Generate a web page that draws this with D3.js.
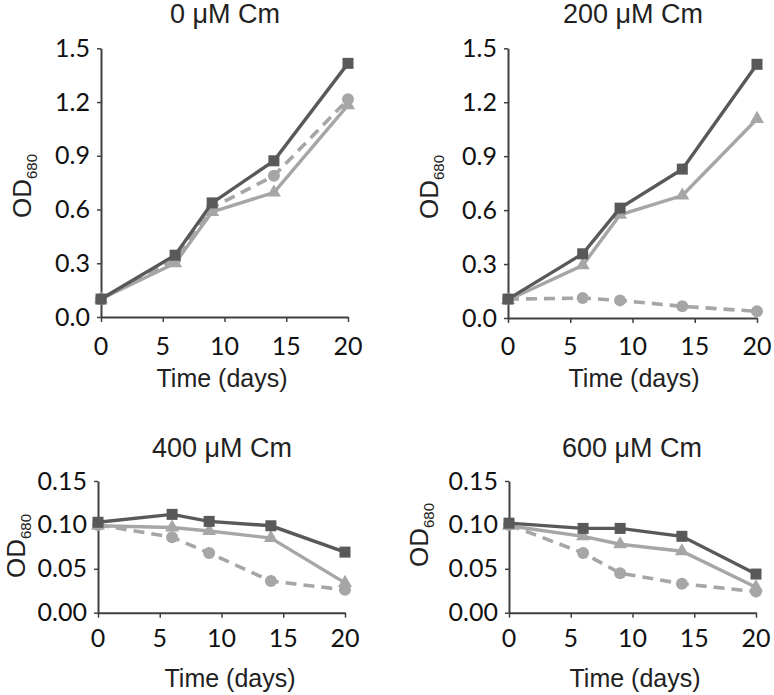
<!DOCTYPE html>
<html>
<head>
<meta charset="utf-8">
<script src="https://cdn.jsdelivr.net/npm/d3@7/dist/d3.min.js"></script>
<style>
  body { margin: 0; background: #fff; }
  svg { display: block; }
</style>
</head>
<body>
<svg id="chart" width="774" height="695"></svg>
<script>
// ---- data ----
const days = [0, 6, 9, 14, 20];
const titles = ["0 μM Cm", "200 μM Cm", "400 μM Cm", "600 μM Cm"];
const xTicks = [0, 5, 10, 15, 20];
const yTicksTop = [0, 0.3, 0.6, 0.9, 1.2, 1.5];
const yTicksBottom = [0, 0.05, 0.10, 0.15];
const yMaxTop = 1.5;
const yMaxBottom = 0.15;

// squares (dark solid)
const square0   = [0.100, 0.345, 0.637, 0.872, 1.416];
const square200 = [0.105, 0.357, 0.611, 0.828, 1.411];
const square400 = [0.103, 0.112, 0.104, 0.099, 0.069];
const square600 = [0.102, 0.096, 0.096, 0.087, 0.044];
// triangles (light solid)
const tri0   = [0.100, 0.300, 0.587, 0.695, 1.183];
const tri200 = [0.100, 0.293, 0.574, 0.681, 1.107];
const tri400 = [0.099, 0.097, 0.093, 0.085, 0.034];
const tri600 = [0.099, 0.087, 0.078, 0.070, 0.029];
// circles (light dashed)
const circ0   = [0.100, 0.320, 0.610, 0.788, 1.215];
const circ200 = [0.105, 0.111, 0.098, 0.065, 0.037];
const circ400 = [0.100, 0.086, 0.068, 0.036, 0.026];
const circ600 = [0.100, 0.068, 0.045, 0.033, 0.024];

const squares = [square0, square200, square400, square600];
const tris = [tri0, tri200, tri400, tri600];
const circs = [circ0, circ200, circ400, circ600];

// ---- layout ----
const panels = [
  { x0: 101, x1: 348, yTop: 48.3, yBot: 317, titleX: 225, titleY: 23, xlabX: 222, xlabY: 387, tickY: 355, odX: 31, odY: 186, top: true },
  { x0: 508, x1: 757, yTop: 48.3, yBot: 318, titleX: 633, titleY: 23, xlabX: 634, xlabY: 387, tickY: 355, odX: 438, odY: 187, top: true },
  { x0: 98,  x1: 345, yTop: 481, yBot: 612.7, titleX: 222, titleY: 457, xlabX: 230, xlabY: 687, tickY: 647, odX: 25, odY: 546, top: false },
  { x0: 509, x1: 756, yTop: 481, yBot: 612.7, titleX: 632, titleY: 457, xlabX: 635, xlabY: 687, tickY: 647, odX: 428, odY: 535, top: false }
];

const dark = "#595959";
const light = "#a6a6a6";
const axisColor = "#404040";
const tickFont = "Lato, 'Open Sans', sans-serif";
const labelFont = "'Liberation Sans', Arial, sans-serif";

const svg = d3.select("#chart");

panels.forEach((p, i) => {
  const g = svg.append("g");
  const x = d3.scaleLinear().domain([0, 20]).range([p.x0, p.x1]);
  const y = d3.scaleLinear().domain([0, p.top ? yMaxTop : yMaxBottom]).range([p.yBot, p.yTop]);
  const yTicks = p.top ? yTicksTop : yTicksBottom;
  const fmt = p.top ? d3.format(".1f") : d3.format(".2f");

  // x axis
  const xa = g.append("g").attr("transform", `translate(0,${p.yBot})`)
    .call(d3.axisBottom(x).tickValues(xTicks).tickSize(5).tickSizeOuter(0).tickPadding(0));
  xa.select(".domain").attr("stroke", axisColor).attr("stroke-width", 2);
  xa.selectAll(".tick line").attr("stroke", axisColor).attr("stroke-width", 1.5);
  xa.selectAll(".tick text").remove();
  xTicks.forEach(t => {
    g.append("text").attr("x", x(t)).attr("y", p.tickY)
      .attr("text-anchor", "middle").attr("font-family", tickFont).attr("font-size", 25)
      .attr("fill", "#111").text(t);
  });

  // y axis
  const ya = g.append("g").attr("transform", `translate(${p.x0},0)`)
    .call(d3.axisLeft(y).tickValues(yTicks).tickSize(4).tickSizeOuter(0).tickFormat(fmt).tickPadding(7));
  ya.select(".domain").attr("stroke", axisColor).attr("stroke-width", 2);
  ya.selectAll(".tick line").attr("stroke", axisColor).attr("stroke-width", 1.5);
  ya.selectAll(".tick text").attr("font-family", tickFont).attr("font-size", 25).attr("fill", "#111");

  const line = d3.line().x((d, k) => x(days[k])).y(d => y(d));

  // circles dashed
  g.append("path").datum(circs[i]).attr("d", line).attr("fill", "none")
    .attr("stroke", light).attr("stroke-width", 3.6).attr("stroke-dasharray", "11,7");
  g.selectAll(".c").data(circs[i]).enter().append("circle")
    .attr("cx", (d, k) => x(days[k])).attr("cy", d => y(d)).attr("r", 6).attr("fill", light);

  // triangles
  g.append("path").datum(tris[i]).attr("d", line).attr("fill", "none")
    .attr("stroke", light).attr("stroke-width", 3.4);
  g.selectAll(".t").data(tris[i]).enter().append("path")
    .attr("d", d3.symbol().type(d3.symbolTriangle).size(85))
    .attr("transform", (d, k) => `translate(${x(days[k])},${y(d)})`).attr("fill", light);

  // squares
  g.append("path").datum(squares[i]).attr("d", line).attr("fill", "none")
    .attr("stroke", dark).attr("stroke-width", 3.4);
  g.selectAll(".s").data(squares[i]).enter().append("rect")
    .attr("x", (d, k) => x(days[k]) - 5.5).attr("y", d => y(d) - 5.5)
    .attr("width", 11).attr("height", 11).attr("fill", dark);

  // title
  g.append("text").attr("x", p.titleX).attr("y", p.titleY).attr("text-anchor", "middle")
    .attr("font-family", labelFont).attr("font-size", 27).attr("fill", "#222").text(titles[i]);
  // x label
  g.append("text").attr("x", p.xlabX).attr("y", p.xlabY).attr("text-anchor", "middle")
    .attr("font-family", labelFont).attr("font-size", 25).attr("fill", "#222").text("Time (days)");
  // y label
  const yl = g.append("text").attr("transform", `translate(${p.odX},${p.odY}) rotate(-90)`)
    .attr("text-anchor", "middle").attr("font-family", labelFont).attr("fill", "#222");
  yl.append("tspan").attr("font-size", 26).text("OD");
  yl.append("tspan").attr("font-size", 15).attr("dy", 6).text("680");
});
</script>
</body>
</html>
